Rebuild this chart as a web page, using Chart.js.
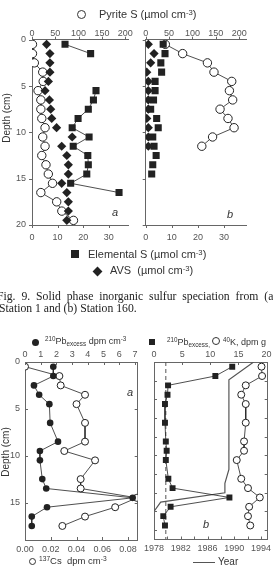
<!DOCTYPE html>
<html>
<head>
<meta charset="utf-8">
<script src="https://cdn.jsdelivr.net/npm/chart.js@4.4.1/dist/chart.umd.min.js"></script>
<style>
  body { margin: 0; width: 273px; height: 582px; overflow: hidden; background: #fff; position: relative;
         font-family: "Liberation Sans", Arial, sans-serif; color: #333; }
  canvas { position: absolute; left: 0; top: 0; }
  .t { position: absolute; white-space: nowrap; line-height: 1; }
  .t sup { font-size: 70%; vertical-align: 0; position: relative; top: -0.45em; }
  .t sub { font-size: 70%; vertical-align: 0; position: relative; top: 0.35em; }
  .cap { font-family: "Liberation Serif", "Times New Roman", serif; font-size: 11.7px; color: #222; }
  .rot { transform: translate(-50%, -50%) rotate(-90deg); }
  .mk { position: absolute; box-sizing: border-box; }
</style>
</head>
<body>
<canvas id="topA" width="273" height="582"></canvas>
<canvas id="topB" width="273" height="582"></canvas>
<canvas id="botA" width="273" height="582"></canvas>
<canvas id="botB" width="273" height="582"></canvas>

<!-- legends and caption -->
<div class="mk" style="left:77px;top:9.5px;width:9px;height:9px;border:1.2px solid #333;border-radius:50%"></div>
<div class="t" style="left:99px;top:9px;font-size:11px">Pyrite S (µmol cm<sup>-3</sup>)</div>
<div class="t rot" style="left:7px;top:118px;font-size:10px">Depth (cm)</div>
<div class="t" style="left:112px;top:207px;font-size:11px;font-style:italic">a</div>
<div class="t" style="left:227px;top:209px;font-size:11px;font-style:italic">b</div>
<div class="mk" style="left:71px;top:250px;width:8px;height:8px;background:#222"></div>
<div class="t" style="left:88px;top:249px;font-size:11px">Elemental S (µmol cm<sup>-3</sup>)</div>
<div class="mk" style="left:94px;top:267.5px;width:7px;height:7px;background:#222;transform:rotate(45deg)"></div>
<div class="t" style="left:110px;top:265px;font-size:11px">AVS&nbsp; (µmol cm<sup>-3</sup>)</div>
<div class="t cap" style="left:-3px;top:290.5px;word-spacing:3px">Fig. 9. Solid phase inorganic sulfur speciation from (a)</div>
<div class="t cap" style="left:-1px;top:302.5px">Station 1 and (b) Station 160.</div>

<div class="mk" style="left:31.5px;top:339px;width:7px;height:7px;background:#222;border-radius:50%"></div>
<div class="t" style="left:45px;top:337px;font-size:9px"><sup>210</sup>Pb<sub>excess</sub> dpm cm<sup>-3</sup></div>
<div class="mk" style="left:148.5px;top:339px;width:6px;height:6px;background:#222"></div>
<div class="t" style="left:167px;top:337px;font-size:9px"><sup>210</sup>Pb<sub>excess,</sub> <span style="display:inline-block;width:6px;height:6px;border:1px solid #333;border-radius:50%;vertical-align:0"></span> <sup>40</sup>K, dpm g</div>
<div class="t rot" style="left:6px;top:452px;font-size:10px">Depth (cm)</div>
<div class="t" style="left:127px;top:387px;font-size:11px;font-style:italic">a</div>
<div class="t" style="left:203px;top:519px;font-size:11px;font-style:italic">b</div>
<div class="mk" style="left:28.5px;top:557.5px;width:7px;height:7px;border:1px solid #333;border-radius:50%"></div>
<div class="t" style="left:39px;top:556px;font-size:9.5px"><sup>137</sup>Cs&nbsp; dpm cm<sup>-3</sup></div>
<div class="mk" style="left:193px;top:561.5px;width:22px;height:1.3px;background:#555"></div>
<div class="t" style="left:218px;top:557px;font-size:10px">Year</div>

<script>
// ---- Fig. 9 : solid phase sulfur, depth in cm (1 cm slices) ----
const depthTop = [0.5, 1.5, 2.5, 3.5, 4.5, 5.5, 6.5, 7.5, 8.5, 9.5, 10.5, 11.5, 12.5, 13.5, 14.5, 15.5, 16.5, 17.5, 18.5, 19.5];
// station 1
const pyriteA = [1, 1, 5, 23, 24, 13, 19, 19, 21, 28, 23, 28, 21, 30, 35, 44, 19, 53, 64, 89];
const elemA = [12.9, 22.9, null, null, null, 25, 24, 22, 18, 15.7, 22.3, 16.1, 21.8, 22, 21.4, 15.1, 34, null, null, null];
const avsA = [5.7, 7.0, 7.0, 7.0, 6.4, 5.1, 6.8, 7.3, 7.7, 9.6, 15.7, 11.6, 13.6, 14.2, 14.2, 11.6, 13.6, 14.2, 14.2, 13.6];
// station 160
const pyriteB = [42, 79, 132, 146, 184, 179, 186, 159, 176, 189, 143, 120];
const elemB = [6.7, 7.4, 5.8, 6.1, 3.6, 3.6, 3.0, 1.9, 4.2, 4.8, 2.7, 3.2, 4.0, 2.7, 2.3];
const avsB = [1.0, 3.2, 1.9, 0.4, 1.0, 1.0, 1.0, 1.0, 0.4, 1.0, 1.0, 1.0];

// ---- radionuclides ----
const depthBot = [0.5, 1.5, 2.5, 3.5, 4.5, 6.5, 8.5, 9.5, 10.5, 12.5, 13.5, 14.5, 15.5, 16.5, 17.5];
const pbA = [1.8, 1.8, 0.57, 0.9, 1.55, 1.6, 2.1, 0.95, 0.95, 1.1, 1.35, 6.85, 1.4, 0.43, 0.43];
const csA = [0.0, 0.0267, 0.0277, 0.0466, 0.040, 0.0466, 0.0466, 0.0305, 0.0544, 0.0432, 0.0432, 0.0868, 0.070, 0.0466, 0.029];
const pbB = [13.9, 10.9, 2.5, 2.4, 1.95, 1.95, 2.1, 2.25, 2.1, 2.55, 3.3, 13.4, 2.95, 1.65, 1.95];
const kB = [19.1, 19.2, 16.3, 15.5, 16.3, 16.3, 16.0, 16.0, 14.7, 15.5, 16.7, 18.8, 16.9, 16.7, 17.1];
const pbSupported = 2.1;
const yearDepth = [0, 1.9, 11.5, 13.0, 14.0, 15.0, 16.0];
const yearVal = [1992.9, 1989.2, 1989.2, 1988.6, 1988.6, 1979, 1978];

// tick labels
const pyriteTicks = [0, 50, 100, 150, 200];
const sulfurTicks = [0, 10, 20, 30];
const depthTicks = [0, 5, 10, 15, 20];
const pbTicksA = [0, 1, 2, 3, 4, 5, 6, 7];
const csTicks = [0, 0.02, 0.04, 0.06, 0.08];
const pbTicksB = [0, 5, 10, 15, 20];
const yearTicks = [1978, 1982, 1986, 1990, 1994];

const FONT = "'Liberation Sans', Arial, sans-serif";
const AXIS = '#666';
const INK = '#222';
const LABEL = '#555';

const pts = (xs, ys) => xs.map((v, i) => ({ x: v, y: ys[i] }));

// fixed-size axis so the plot box lands where the original has it
function ax(pos, min, max, o) {
  return {
    type: 'linear', position: pos, min: min, max: max, reverse: !!o.reverse,
    grid: { display: false, drawTicks: false },
    border: { display: true, color: AXIS, width: 1 },
    ticks: {
      display: o.labels !== false, padding: o.pad || 0,
      autoSkip: false, maxRotation: 0, color: LABEL,
      font: { family: FONT, size: o.font || 9 },
      callback: o.fmt || (v => String(v))
    },
    afterBuildTicks: s => { s.ticks = (o.vals || []).map(v => ({ value: v })); },
    afterFit: s => {
      if (s.isHorizontal()) s.height = o.size; else s.width = o.size;
      s.paddingLeft = s.paddingRight = s.paddingTop = s.paddingBottom = 0;
    },
    _size: o.size
  };
}

// little tick marks, drawn in or out of the box
function tickMarks(specs) {
  return {
    id: 'tickMarks',
    afterDraw(chart) {
      const ctx = chart.ctx, a = chart.chartArea;
      ctx.save();
      ctx.strokeStyle = AXIS;
      ctx.lineWidth = 1;
      specs.forEach(s => {
        const sc = chart.scales[s.axis];
        s.values.forEach(v => {
          const p = Math.round(sc.getPixelForValue(v)) + 0.5;
          ctx.beginPath();
          if (s.side === 'top') { ctx.moveTo(p, a.top); ctx.lineTo(p, a.top + s.len); }
          if (s.side === 'bottom') { ctx.moveTo(p, a.bottom); ctx.lineTo(p, a.bottom - s.len); }
          if (s.side === 'left') { ctx.moveTo(a.left, p); ctx.lineTo(a.left + s.len, p); }
          if (s.side === 'right') { ctx.moveTo(a.right, p); ctx.lineTo(a.right - s.len, p); }
          ctx.stroke();
        });
      });
      ctx.restore();
    }
  };
}

function panel(id, box, scales, datasets, marks) {
  const used = { top: 0, bottom: 0, left: 0, right: 0 };
  Object.values(scales).forEach(s => { used[s.position] += s._size; });
  new Chart(document.getElementById(id), {
    type: 'scatter',
    data: { datasets: datasets },
    options: {
      responsive: false, animation: false, events: [],
      layout: { padding: { left: box.l - used.left, top: box.t - used.top, right: 273 - box.r - used.right, bottom: 582 - box.b - used.bottom } },
      plugins: { legend: { display: false }, tooltip: { enabled: false } },
      scales: scales
    },
    plugins: [tickMarks(marks)]
  });
}

const openCircle = (r) => ({ pointStyle: 'circle', pointRadius: r, pointBackgroundColor: '#fff', pointBorderColor: INK, pointBorderWidth: 1, borderColor: INK, borderWidth: 0.8 });
const filled = (style, r) => ({ pointStyle: style, pointRadius: r, pointBackgroundColor: INK, pointBorderColor: INK, pointBorderWidth: 0, borderColor: INK, borderWidth: 0.8 });

// ---- top left : station 1 ----
panel('topA', { l: 32, t: 39.7, r: 128, b: 225 }, {
  xt: ax('top', 0, 206, { vals: pyriteTicks, size: 12, pad: 1 }),
  xb: ax('bottom', 0, 37.5, { vals: sulfurTicks, size: 16, pad: 7 }),
  y: ax('left', 0, 20, { vals: depthTicks, size: 20, pad: 6, reverse: true })
}, [
  Object.assign({ data: pts(avsA, depthTop), xAxisID: 'xb', yAxisID: 'y', showLine: false }, filled('rectRot', 4.6)),
  Object.assign({ data: pts(pyriteA, depthTop), xAxisID: 'xt', yAxisID: 'y', showLine: true }, openCircle(4.2)),
  Object.assign({ data: pts(elemA, depthTop), xAxisID: 'xb', yAxisID: 'y', showLine: true, spanGaps: false }, filled('rect', 5))
], [
  { axis: 'xt', side: 'top', len: -3, values: pyriteTicks },
  { axis: 'xb', side: 'bottom', len: -3, values: sulfurTicks },
  { axis: 'y', side: 'left', len: -3, values: depthTicks }
]);

// ---- top right : station 160 ----
panel('topB', { l: 145.7, t: 39.7, r: 246.7, b: 225 }, {
  xt: ax('top', 0, 216, { vals: pyriteTicks, size: 12, pad: 1 }),
  xb: ax('bottom', 0, 38.7, { vals: sulfurTicks, size: 16, pad: 7 }),
  y: ax('left', 0, 20, { vals: depthTicks, size: 10, labels: false, reverse: true })
}, [
  Object.assign({ data: pts(avsB, depthTop), xAxisID: 'xb', yAxisID: 'y', showLine: false }, filled('rectRot', 4.6)),
  Object.assign({ data: pts(elemB, depthTop), xAxisID: 'xb', yAxisID: 'y', showLine: false }, filled('rect', 5)),
  Object.assign({ data: pts(pyriteB, depthTop), xAxisID: 'xt', yAxisID: 'y', showLine: true }, openCircle(4.2))
], [
  { axis: 'xt', side: 'top', len: -3, values: pyriteTicks },
  { axis: 'xb', side: 'bottom', len: -3, values: sulfurTicks },
  { axis: 'y', side: 'left', len: -3, values: depthTicks }
]);

// ---- bottom left : 210Pb and 137Cs ----
panel('botA', { l: 25, t: 362, r: 137.7, b: 540 }, {
  xt: ax('top', 0, 7.17, { vals: pbTicksA, size: 12, pad: 2 }),
  xb: ax('bottom', 0, 0.0875, { vals: csTicks, size: 14, pad: 4, fmt: v => v.toFixed(2) }),
  y: ax('left', 0, 19, { vals: depthTicks.slice(0, 4), size: 16, pad: 5, reverse: true }),
  yr: ax('right', 0, 19, { size: 0, labels: false, reverse: true })
}, [
  Object.assign({ data: pts(pbA, depthBot), xAxisID: 'xt', yAxisID: 'y', showLine: true }, filled('circle', 3.3)),
  Object.assign({ data: pts(csA, depthBot), xAxisID: 'xb', yAxisID: 'y', showLine: true }, openCircle(3.5))
], [
  { axis: 'xt', side: 'top', len: 3, values: pbTicksA },
  { axis: 'xb', side: 'bottom', len: 3, values: csTicks },
  { axis: 'y', side: 'left', len: 3, values: [0, 5, 10, 15] },
  { axis: 'y', side: 'right', len: 3, values: [0, 5, 10, 15] }
]);

// ---- bottom right : 210Pb, 40K and age ----
panel('botB', { l: 154, t: 362, r: 267.7, b: 539.5 }, {
  xt: ax('top', 0, 20.2, { vals: pbTicksB, size: 12, pad: 2 }),
  xb: ax('bottom', 1978, 1995, { vals: yearTicks, size: 14, pad: 4 }),
  y: ax('left', 0, 19, { size: 0, labels: false, reverse: true }),
  yr: ax('right', 0, 19, { size: 0, labels: false, reverse: true })
}, [
  Object.assign({ data: pts(pbB, depthBot), xAxisID: 'xt', yAxisID: 'y', showLine: true }, filled('rect', 4.2)),
  Object.assign({ data: pts(kB, depthBot), xAxisID: 'xt', yAxisID: 'y', showLine: true }, openCircle(3.5)),
  { data: pts(yearVal, yearDepth), xAxisID: 'xb', yAxisID: 'y', showLine: true, pointRadius: 0, borderColor: '#555', borderWidth: 1.2 },
  { data: pts([pbSupported, pbSupported], [0, 19]), xAxisID: 'xt', yAxisID: 'y', showLine: true, pointRadius: 0, borderColor: '#555', borderWidth: 1, borderDash: [4, 3] }
], [
  { axis: 'xt', side: 'top', len: 3, values: pbTicksB },
  { axis: 'xb', side: 'bottom', len: 3, values: [1978, 1980, 1982, 1984, 1986, 1988, 1990, 1992, 1994] },
  { axis: 'y', side: 'left', len: 3, values: [0, 2, 4, 6, 8, 10, 12, 14, 16, 18] },
  { axis: 'y', side: 'right', len: 3, values: [0, 2, 4, 6, 8, 10, 12, 14, 16, 18] }
]);
</script>
</body>
</html>
